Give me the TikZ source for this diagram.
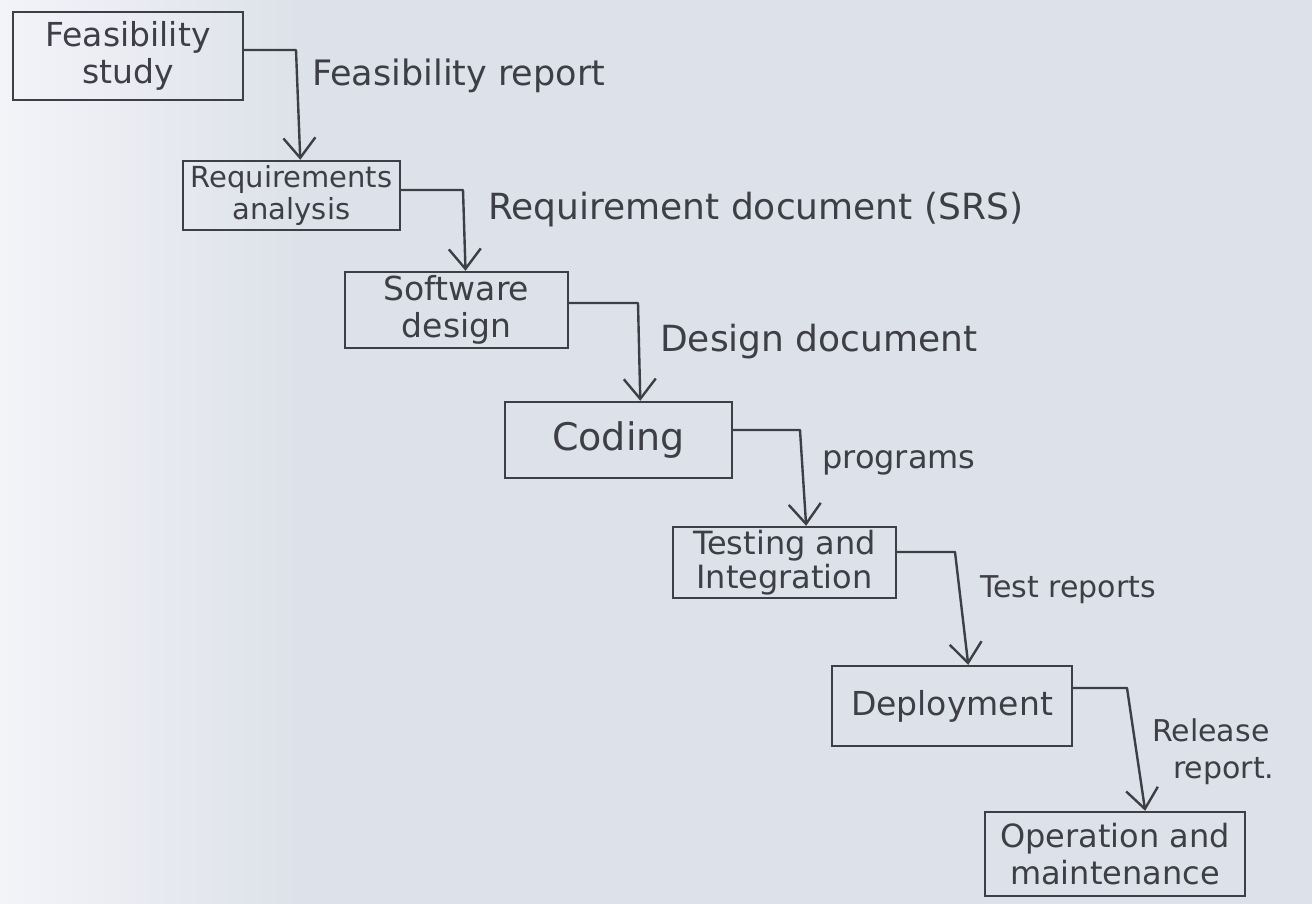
\documentclass[tikz,border=0pt]{standalone}
\usepackage{fontspec}
\setmainfont{DejaVu Sans}
\usetikzlibrary{arrows.meta,calc}
\definecolor{paper}{RGB}{221,225,233}
\definecolor{paperlight}{RGB}{243,244,248}
\definecolor{ink}{RGB}{62,62,70}

\begin{document}
\begin{tikzpicture}[x=1pt,y=-1pt,
  stage/.style={draw=ink,line width=2.4pt,text=ink,inner sep=0pt,align=center,
    font=\fontsize{33}{37}\selectfont},
  flow/.style={draw=ink,line width=2.4pt,line join=round,
    -{Straight Barb[length=20pt,width=32pt]}},
  note/.style={text=ink,anchor=west,inner sep=0pt,align=left,
    font=\fontsize{35}{37}\selectfont}]

% paper, lighter towards the left edge
\useasboundingbox (0,0) rectangle (1312,904);
\fill[paper] (0,0) rectangle (1312,904);
\shade[left color=paperlight,right color=paper,shading angle=90] (0,0) rectangle (300,904);

% phases
\node[stage,minimum width=230pt,minimum height=88pt] (fs) at (128,56) {Feasibility\\study};
\node[stage,minimum width=217pt,minimum height=69pt,
  font=\fontsize{29}{32}\selectfont] (ra) at (291.5,195.5) {Requirements\\analysis};
\node[stage,minimum width=223pt,minimum height=76pt] (sd) at (456.5,310) {Software\\design};
\node[stage,minimum width=227pt,minimum height=76pt,
  font=\fontsize{38}{40}\selectfont] (cd) at (618.5,440) {Coding};
\node[stage,minimum width=223pt,minimum height=71pt,
  font=\fontsize{32}{34}\selectfont] (ti) at (784.5,562.5) {Testing and\\Integration};
\node[stage,minimum width=240pt,minimum height=80pt] (dp) at (952,706) {Deployment};
\node[stage,minimum width=260pt,minimum height=84pt,
  font=\fontsize{32}{37}\selectfont] (om) at (1115,854) {Operation and\\maintenance};

% corners of the connectors
\coordinate (k1) at (296,50);
\coordinate (k2) at (463,190);
\coordinate (k3) at (638,303);
\coordinate (k4) at (800,430);
\coordinate (k5) at (955,552);
\coordinate (k6) at (1127,688);

\draw[flow] (fs.east |- k1) -- (k1) -- ($(ra.north west)!0.54!(ra.north east)$);
\draw[flow] (ra.east |- k2) -- (k2) -- ($(sd.north west)!0.54!(sd.north east)$);
\draw[flow] (sd.east |- k3) -- (k3) -- ($(cd.north west)!0.595!(cd.north east)$);
\draw[flow] (cd.east |- k4) -- (k4) -- ($(ti.north west)!0.596!(ti.north east)$);
\draw[flow] (ti.east |- k5) -- (k5) -- ($(dp.north west)!0.567!(dp.north east)$);
\draw[flow] (dp.east |- k6) -- (k6) -- ($(om.north west)!0.615!(om.north east)$);

% deliverables
\node[note] (l1) at (312,76) {Feasibility report};
\node[note,font=\fontsize{36}{38}\selectfont] (l2) at (488,210) {Requirement document (SRS)};
\node[note,font=\fontsize{36}{38}\selectfont] (l3) at (660,342) {Design document};
\node[note,font=\fontsize{32}{36}\selectfont] (l4) at (822,463) {programs};
\node[note,font=\fontsize{30}{34}\selectfont] (l5) at (980,590) {Test reports};
\node[note,font=\fontsize{30}{37}\selectfont] (l6) at (1152,752) {Release\\\hspace*{21pt}report.};
\end{tikzpicture}
\end{document}
